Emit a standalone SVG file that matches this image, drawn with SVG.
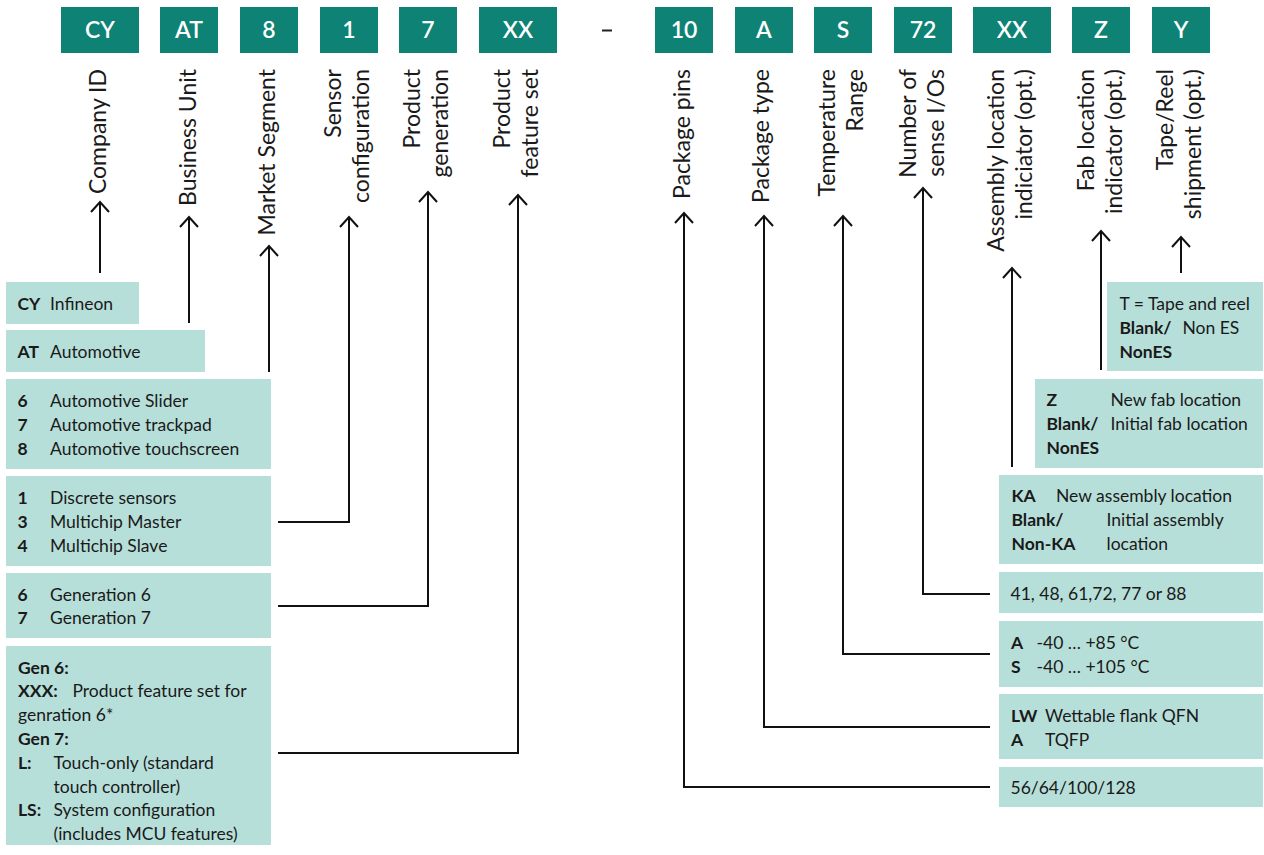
<svg xmlns="http://www.w3.org/2000/svg" width="1264" height="855" viewBox="0 0 1264 855">
  <defs>
    <marker id="ah" markerUnits="userSpaceOnUse" markerWidth="24" markerHeight="24" refX="0" refY="0" orient="auto" overflow="visible">
      <path d="M-10,-9 L0,0 L-10,9" fill="none" stroke="#111" stroke-width="2"/>
    </marker>
  </defs>
  <style>
    .code rect { fill: #0e8275; }
    .code text { fill: #ffffff; font-family: Lato, "Noto Sans", sans-serif; font-size: 23px; font-weight: 600; text-anchor: middle; }
    .lbl { fill: #1a1a1a; font-family: Lato, "Noto Sans", sans-serif; font-size: 23px; text-anchor: end; }
    .box rect { fill: #b7dfd9; }
    .box text { fill: #1a1a1a; font-family: Lato, "Noto Sans", sans-serif; font-size: 17.5px; }
    .box .b { font-weight: 700; }
    .wire { fill: none; stroke: #111; stroke-width: 2; }
    .wire .up { marker-end: url(#ah); }
    .dash { fill: none; stroke: #222; stroke-width: 2; }
  </style>

  <rect width="1264" height="855" fill="#ffffff"/>

  <!-- part-number code fields -->
  <g id="code-cy" class="code"><rect x="61" y="7" width="78" height="46"/><text x="100" y="37.5">CY</text></g>
  <g id="code-at" class="code"><rect x="160" y="7" width="58" height="46"/><text x="189" y="37.5">AT</text></g>
  <g id="code-8" class="code"><rect x="240" y="7" width="58" height="46"/><text x="269" y="37.5">8</text></g>
  <g id="code-1" class="code"><rect x="320" y="7" width="58" height="46"/><text x="349" y="37.5">1</text></g>
  <g id="code-7" class="code"><rect x="399" y="7" width="58" height="46"/><text x="428" y="37.5">7</text></g>
  <g id="code-xx1" class="code"><rect x="479" y="7" width="78" height="46"/><text x="518" y="37.5">XX</text></g>
  <!-- separator between the base part and the ordering options -->
  <path class="dash" d="M602,30.5 H612"/>
  <g id="code-10" class="code"><rect x="655" y="7" width="58" height="46"/><text x="684" y="37.5">10</text></g>
  <g id="code-a" class="code"><rect x="735" y="7" width="58" height="46"/><text x="764" y="37.5">A</text></g>
  <g id="code-s" class="code"><rect x="814" y="7" width="58" height="46"/><text x="843" y="37.5">S</text></g>
  <g id="code-72" class="code"><rect x="894" y="7" width="58" height="46"/><text x="923" y="37.5">72</text></g>
  <g id="code-xx2" class="code"><rect x="973" y="7" width="78" height="46"/><text x="1012" y="37.5">XX</text></g>
  <g id="code-z" class="code"><rect x="1072" y="7" width="58" height="46"/><text x="1101" y="37.5">Z</text></g>
  <g id="code-y" class="code"><rect x="1152" y="7" width="58" height="46"/><text x="1181" y="37.5">Y</text></g>

  <!-- field names (rotated) -->
  <g id="field-names">
    <text class="lbl" transform="translate(106,69) rotate(-90)">Company ID</text>
    <text class="lbl" transform="translate(196,69) rotate(-90)">Business Unit</text>
    <text class="lbl" transform="translate(275,69) rotate(-90)">Market Segment</text>
    <text class="lbl" transform="translate(341,69) rotate(-90)"><tspan x="0" y="0">Sensor</tspan><tspan x="0" y="28">configuration</tspan></text>
    <text class="lbl" transform="translate(420,69) rotate(-90)"><tspan x="0" y="0">Product</tspan><tspan x="0" y="28">generation</tspan></text>
    <text class="lbl" transform="translate(510,69) rotate(-90)"><tspan x="0" y="0">Product</tspan><tspan x="0" y="28">feature set</tspan></text>
    <text class="lbl" transform="translate(690,69) rotate(-90)">Package pins</text>
    <text class="lbl" transform="translate(769,69) rotate(-90)">Package type</text>
    <text class="lbl" transform="translate(835,69) rotate(-90)"><tspan x="0" y="0">Temperature</tspan><tspan x="0" y="28">Range</tspan></text>
    <text class="lbl" transform="translate(916,69) rotate(-90)"><tspan x="0" y="0">Number of</tspan><tspan x="0" y="28">sense I/Os</tspan></text>
    <text class="lbl" transform="translate(1004,69) rotate(-90)"><tspan x="0" y="0">Assembly location</tspan><tspan x="0" y="28">indiciator (opt.)</tspan></text>
    <text class="lbl" transform="translate(1094,69) rotate(-90)"><tspan x="0" y="0">Fab location</tspan><tspan x="0" y="28">indicator (opt.)</tspan></text>
    <text class="lbl" transform="translate(1173,69) rotate(-90)"><tspan x="0" y="0">Tape/Reel</tspan><tspan x="0" y="28">shipment (opt.)</tspan></text>
  </g>

  <!-- connectors -->
  <g id="connectors" class="wire">
    <path class="up" d="M100,273 V202"/>
    <path class="up" d="M189,323 V217"/>
    <path class="up" d="M269,372 V246"/>
    <path class="up" d="M278,522 H349 V217"/>
    <path class="up" d="M278,606 H428 V192"/>
    <path class="up" d="M278,753 H518 V195"/>
    <path class="up" d="M990,787 H684 V213"/>
    <path class="up" d="M990,727 H764 V216"/>
    <path class="up" d="M990,654 H843 V216"/>
    <path class="up" d="M990,594 H923 V188"/>
    <path class="up" d="M1012,467 V268"/>
    <path class="up" d="M1101,370 V231"/>
    <path class="up" d="M1181,273 V237"/>
  </g>

  <!-- left-hand value tables -->
  <g id="box-company" class="box">
    <rect x="6" y="282" width="133" height="42"/>
    <text class="b" x="17.5" y="309.5">CY</text><text x="50" y="309.5">Infineon</text>
  </g>
  <g id="box-business" class="box">
    <rect x="6" y="330" width="199" height="42"/>
    <text class="b" x="17.5" y="358">AT</text><text x="50" y="358">Automotive</text>
  </g>
  <g id="box-market" class="box">
    <rect x="6" y="379" width="265" height="90"/>
    <text class="b" x="17.5" y="406.5">6</text><text x="50" y="406.5">Automotive Slider</text>
    <text class="b" x="17.5" y="430.5">7</text><text x="50" y="430.5">Automotive trackpad</text>
    <text class="b" x="17.5" y="454.5">8</text><text x="50" y="454.5">Automotive touchscreen</text>
  </g>
  <g id="box-sensor" class="box">
    <rect x="6" y="476" width="265" height="90"/>
    <text class="b" x="17.5" y="503.5">1</text><text x="50" y="503.5">Discrete sensors</text>
    <text class="b" x="17.5" y="527.5">3</text><text x="50" y="527.5">Multichip Master</text>
    <text class="b" x="17.5" y="551.5">4</text><text x="50" y="551.5">Multichip Slave</text>
  </g>
  <g id="box-generation" class="box">
    <rect x="6" y="573" width="265" height="65"/>
    <text class="b" x="17.5" y="600.5">6</text><text x="50" y="600.5">Generation 6</text>
    <text class="b" x="17.5" y="624">7</text><text x="50" y="624">Generation 7</text>
  </g>
  <g id="box-feature" class="box">
    <rect x="6" y="646" width="265" height="199"/>
    <text class="b" x="18" y="673.5">Gen 6:</text>
    <text class="b" x="18" y="697.3">XXX:</text><text x="72.5" y="697.3">Product feature set for</text>
    <text x="18" y="721.1">genration 6*</text>
    <text class="b" x="18" y="744.9">Gen 7:</text>
    <text class="b" x="18" y="768.7">L:</text><text x="53.5" y="768.7">Touch-only (standard</text>
    <text x="53.5" y="792.5">touch controller)</text>
    <text class="b" x="18" y="816.3">LS:</text><text x="53.5" y="816.3">System configuration</text>
    <text x="53.5" y="840.1">(includes MCU features)</text>
  </g>

  <!-- right-hand value tables -->
  <g id="box-tape" class="box">
    <rect x="1107" y="282" width="156" height="89"/>
    <text x="1119.5" y="309.5">T = Tape and reel</text>
    <text class="b" x="1119.5" y="333.5">Blank/</text><text x="1182.5" y="333.5">Non ES</text>
    <text class="b" x="1119.5" y="357.5">NonES</text>
  </g>
  <g id="box-fab" class="box">
    <rect x="1035" y="379" width="228" height="89"/>
    <text class="b" x="1046.5" y="406">Z</text><text x="1110.5" y="406">New fab location</text>
    <text class="b" x="1046.5" y="430">Blank/</text><text x="1110.5" y="430">Initial fab location</text>
    <text class="b" x="1046.5" y="454">NonES</text>
  </g>
  <g id="box-assembly" class="box">
    <rect x="999" y="475" width="264" height="89"/>
    <text class="b" x="1011.5" y="502">KA</text><text x="1056" y="502">New assembly location</text>
    <text class="b" x="1011.5" y="526">Blank/</text><text x="1106.5" y="526">Initial assembly</text>
    <text class="b" x="1011.5" y="550">Non-KA</text><text x="1106.5" y="550">location</text>
  </g>
  <g id="box-ios" class="box">
    <rect x="999" y="572" width="264" height="41"/>
    <text x="1010.5" y="599.5">41, 48, 61,72, 77 or 88</text>
  </g>
  <g id="box-temp" class="box">
    <rect x="999" y="621" width="264" height="66"/>
    <text class="b" x="1011" y="648.5">A</text><text x="1036.5" y="648.5">-40 … +85 °C</text>
    <text class="b" x="1011" y="672.5">S</text><text x="1036.5" y="672.5">-40 … +105 °C</text>
  </g>
  <g id="box-package" class="box">
    <rect x="999" y="694" width="264" height="65"/>
    <text class="b" x="1011" y="721.5">LW</text><text x="1045" y="721.5">Wettable flank QFN</text>
    <text class="b" x="1011" y="746">A</text><text x="1045" y="746">TQFP</text>
  </g>
  <g id="box-pins" class="box">
    <rect x="999" y="767" width="264" height="40"/>
    <text x="1010.5" y="793.5">56/64/100/128</text>
  </g>
</svg>
